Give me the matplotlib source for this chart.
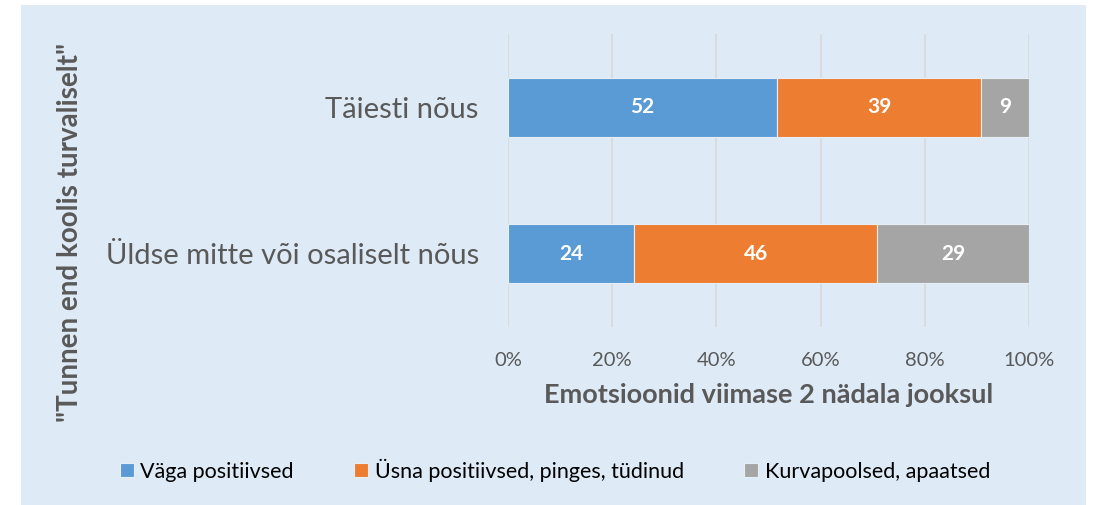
import numpy as np
import matplotlib.pyplot as plt
from matplotlib.patches import Rectangle

categories = ['Üldse mitte või osaliselt nõus', 'Täiesti nõus']
series = ['Väga positiivsed', 'Üsna positiivsed, pinges, tüdinud', 'Kurvapoolsed, apaatsed']
values = {
    'Väga positiivsed': [24.2, 51.6],
    'Üsna positiivsed, pinges, tüdinud': [46.4, 39.2],
    'Kurvapoolsed, apaatsed': [29.1, 9.2],
}
colors = ['#5B9BD5', '#ED7D31', '#A5A5A5']
xticks = [0, 20, 40, 60, 80, 100]

bg = '#DEEAF6'
W, H = 1094, 505
fig = plt.figure(figsize=(W/100, H/100), dpi=100, facecolor='white')
fig.patches.append(Rectangle((21/W, 0), 1065/W, 500/H, transform=fig.transFigure,
                             facecolor=bg, edgecolor='none', zorder=-5))

ax = fig.add_axes([508/W, (H-327)/H, 521/W, 293/H])
ax.set_facecolor(bg)

tot = np.sum([values[s] for s in series], axis=0)
y = np.arange(len(categories))
left = np.zeros(len(categories))
for s, c in zip(series, colors):
    v = np.array(values[s])
    pct = v / tot * 100
    bars = ax.barh(y, pct, left=left, height=0.4, color=c, edgecolor='#e8eef5',
                   linewidth=0.8, label=s, zorder=3)
    for b, val in zip(bars, v):
        ax.text(b.get_x() + b.get_width()/2, b.get_y() + b.get_height()/2,
                f'{val:.0f}', ha='center', va='center', color='white',
                fontsize=15, fontweight='bold', family='Lato', zorder=4)
    left += pct

ax.set_xlim(0, 100)
ax.set_ylim(-0.5, 1.5)
ax.set_xticks(xticks)
ax.set_xticklabels([f'{t}%' for t in xticks], fontsize=14.5, color='#595959', family='Lato')
ax.set_yticks(y)
ax.set_yticklabels(categories, fontsize=21, color='#595959', family='Lato')
ax.tick_params(length=0)
ax.tick_params(axis='x', pad=18)
ax.tick_params(axis='y', pad=21)
ax.grid(axis='x', color='#D9D9D9', linewidth=1.2, zorder=0)
ax.set_axisbelow(True)
for sp in ax.spines.values():
    sp.set_visible(False)

ax.set_xlabel('Emotsioonid viimase 2 nädala jooksul', fontsize=19.5, fontweight='bold',
              color='#595959', family='Lato', labelpad=10)
fig.text(70/W, 1 - 232/H, '"Tunnen end koolis turvaliselt"', rotation=90, ha='center',
         va='center', fontsize=20, fontweight='bold', color='#595959', family='Lato')

fig.legend(loc='center', bbox_to_anchor=(555/W, 1 - 470/H), ncol=3, frameon=False,
           prop={'family': 'Lato', 'size': 15.5}, handlelength=0.65, handleheight=0.65,
           columnspacing=2.8, handletextpad=0.3, labelcolor='#000000')

fig.savefig('out.png', dpi=100, facecolor='white')
